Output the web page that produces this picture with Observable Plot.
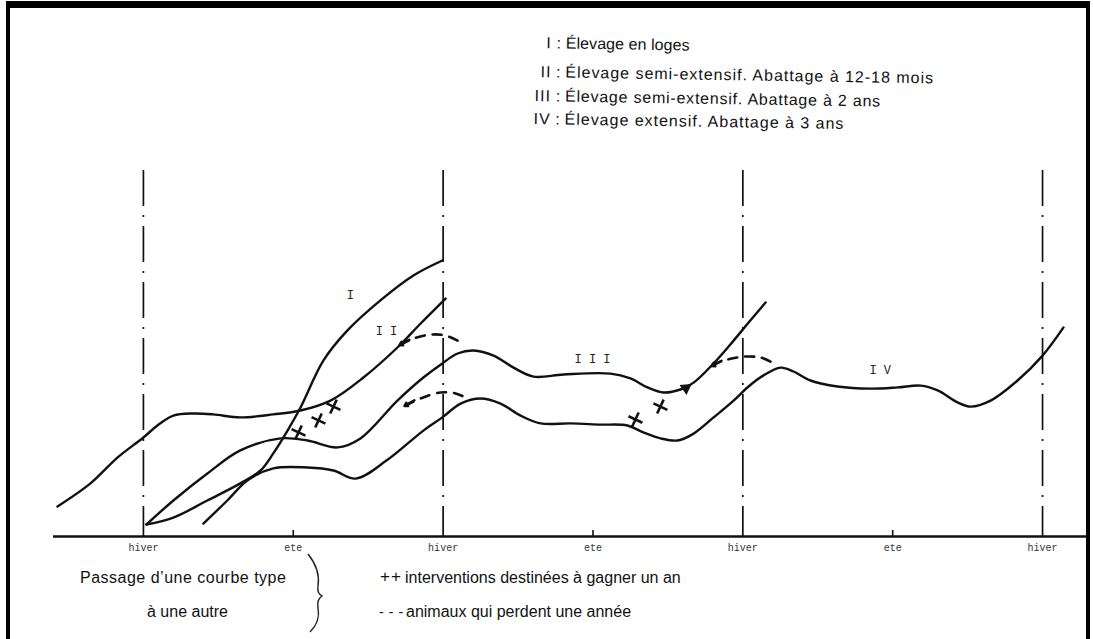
<!DOCTYPE html>
<html>
<head>
<meta charset="utf-8">
<script src="https://cdn.jsdelivr.net/npm/d3@7"></script>
<script src="https://cdn.jsdelivr.net/npm/@observablehq/plot@0.6"></script>
<style>
  body { margin: 0; background: #fff; }
  #page { position: relative; width: 1093px; height: 639px; overflow: hidden; background: #fff; font-family: "Liberation Sans", Arial, sans-serif; color: #111; }
  #frame { position: absolute; left: 6px; top: 1px; width: 1076px; height: 660px; border: 4px solid #000; border-top-width: 7px; border-bottom: none; }
  #legend { position: absolute; left: 528px; top: 34px; transform: rotate(0.9deg); transform-origin: 0 0; font-size: 16px; }
  #legend .row { position: absolute; left: 0; white-space: nowrap; height: 18px; line-height: 18px; }
  #legend .num { display: inline-block; width: 24px; text-align: right; letter-spacing: 1px; }
  #legend .sep { display: inline-block; width: 14px; text-align: center; }
  #chart { position: absolute; left: 0; top: 140px; }
  .bl { position: absolute; white-space: nowrap; font-size: 16px; line-height: 18px; }
</style>
</head>
<body>
<div id="page">
  <div id="frame"></div>
  <div id="legend"></div>
  <div id="chart"></div>
  <div class="bl" style="left:80px; top:569px; letter-spacing:0.5px;">Passage d’une courbe type</div>
  <div class="bl" style="left:147px; top:603px;">à une autre</div>
  <svg style="position:absolute; left:300px; top:550px;" width="30" height="85">
    <path d="M8,4 C16,14 20,24 18,36 C17,42 19,44 22,46 C19,48 17,52 18,58 C20,68 16,76 10,82" fill="none" stroke="#222" stroke-width="1.4"/>
  </svg>
  <div class="bl" style="left:380px; top:568px; letter-spacing:1px; font-size:17px;">++</div>
  <div class="bl" style="left:405px; top:569px;">interventions destinées à gagner un an</div>
  <div class="bl" style="left:379px; top:603px; font-size:14px; letter-spacing:0.6px;">- - -</div>
  <div class="bl" style="left:406px; top:603px;">animaux qui perdent une année</div>
</div>
<script>
// ---- Data (months from first winter, relative live weight) ----
const tickMonths = [0, 6, 12, 18, 24, 30, 36];
const tickLabels = ["hiver", "ete", "hiver", "ete", "hiver", "ete", "hiver"];
const winterMonths = [0, 12, 24, 36];
const summerMonths = [6, 18, 30];

const legendNums = ["I", "II", "III", "IV"];
const legendTexts = [
  "Élevage en loges",
  "Élevage semi-extensif. Abattage à 12-18 mois",
  "Élevage semi-extensif. Abattage à 2 ans",
  "Élevage extensif. Abattage à 3 ans"
];

// [month, weight]
const curveI = [[0.12,4],[1.2,6.3],[2.56,12],[3.88,17.7],[4.69,22],[5.2,27.7],[5.77,35.3],[6.29,43],[7.21,58.7],[8.17,68.7],[9.49,78.7],[10.81,87],[11.97,92]];
const curveII = [[-3.44,10],[-2.12,17.7],[-1.04,26.3],[0,33],[0.56,37],[1.2,40.3],[2.0,41],[2.8,40.7],[3.88,39.7],[5.2,40.7],[6.29,42],[7.49,45.3],[8.81,53],[10.17,63],[11.1,71],[12.1,79.3]];
const curveIII = [[0.12,4],[1.2,12],[2.56,21],[3.88,28.7],[5.49,32.7],[6.57,32],[7.77,29.7],[8.69,32.7],[10.17,45.3],[11.21,53],[11.97,57.7],[12.58,61],[13.22,62],[14.02,60.3],[14.82,56.3],[15.62,53.3],[16.82,54],[18.7,54.3],[19.5,52.7],[20.18,49.7],[20.83,48],[21.5,49],[22.03,51.3],[22.83,57.7],[23.63,65.3],[24.23,71.3],[24.91,78]];
const curveIV = [[2.4,4.3],[3.36,12],[4.16,18.7],[5.2,22.7],[6.57,23],[7.61,22],[8.5,19.3],[9.73,25.3],[11.21,35.3],[11.97,39.7],[12.7,44.3],[13.5,46],[14.3,44.3],[15.1,40.3],[15.9,37.7],[17.1,37.7],[18.3,37.3],[19.38,37],[20.02,34.7],[20.71,32.7],[21.39,32],[22.03,34.3],[22.83,39.7],[23.63,45.3],[24.23,50],[24.83,53.7],[25.51,56.3],[26.03,55],[26.71,52],[27.79,50],[29.11,49.3],[30.2,49.7],[31.12,50.3],[31.8,48.7],[32.6,44.7],[33.12,43.3],[33.92,45.3],[35.0,52],[36.0,60.3],[36.84,69.7]];

// animals losing a year (dashed)
const lossA = [[10.29,64],[10.81,66],[11.49,67.3],[12.09,67],[12.58,65.3]];
const lossB = [[10.49,43.7],[11.09,46],[11.89,48],[12.5,47.7],[12.9,46.3]];
const lossC = [[22.79,57],[23.11,58.3],[23.79,59.7],[24.19,60],[24.71,59.7],[25.11,58.3]];

// interventions to gain a year (crosses)
const gainMonths = [6.21, 7.01, 7.61, 19.7, 20.7];
const gainWeights = [34.7, 38.7, 43.3, 39, 43.3];

const curveNames = ["I", "I I", "I I I", "I V"];
const curveLabelMonths = [8.29, 9.73, 17.98, 29.5];
const curveLabelWeights = [80.3, 68.3, 59, 55.3];

// arrowheads: [x1, y1, x2, y2]
const arrowHeads = [[10.65,65.6,10.25,63.8],[10.85,45.4,10.45,43.5],[23.15,58.6,22.75,56.8]];
const gainArrow = [[21.72, 49.5]];

// ---- Legend (HTML) ----
const legendRight = [690, 935, 882, 846];
const legend = document.getElementById("legend");
const rowTops = [0, 29, 53, 76];
legendNums.forEach((n, i) => {
  const row = document.createElement("div");
  row.className = "row";
  row.style.top = rowTops[i] + "px";
  row.innerHTML = `<span class="num">${n}</span><span class="sep">:</span><span class="txt">${legendTexts[i]}</span>`;
  legend.appendChild(row);
  const txt = row.querySelector(".txt");
  const startX = 528 + 24 + 14;
  const natural = txt.getBoundingClientRect().width;
  const target = legendRight[i] - startX;
  const ls = (target - natural) / legendTexts[i].length;
  txt.style.letterSpacing = Math.max(-0.5, Math.min(1.5, ls)).toFixed(2) + "px";
});

// ---- Build tables ----
const series = [["I", curveI], ["II", curveII], ["III", curveIII], ["IV", curveIV]];
const lines = series.flatMap(([k, pts]) => pts.map(([x, y]) => ({k, x, y})));
const losses = [["a", lossA], ["b", lossB], ["c", lossC]].flatMap(([k, pts]) => pts.map(([x, y]) => ({k, x, y})));
const gains = gainMonths.map((x, i) => ({x, y: gainWeights[i]}));
const labels = curveNames.map((t, i) => ({t, x: curveLabelMonths[i], y: curveLabelWeights[i]}));

const chart = Plot.plot({
  width: 1093,
  height: 420,
  marginLeft: 53,
  marginRight: 6,
  marginTop: 21,
  marginBottom: 24,
  x: {domain: [-3.6, 37.8], axis: null},
  y: {domain: [0, 125], axis: null},
  style: {background: "transparent", color: "#111"},
  marks: [
    Plot.ruleX(winterMonths, {y1: 122, y2: 0, stroke: "#111", strokeWidth: 1.7, strokeDasharray: "36,9,2,9"}),
    Plot.ruleY([0], {stroke: "#111", strokeWidth: 2.6}),
    Plot.ruleX(summerMonths, {y1: 0, y2: 2, stroke: "#111", strokeWidth: 1.6}),
    Plot.axisX({ticks: tickMonths, tickFormat: (d) => tickLabels[tickMonths.indexOf(d)], tickSize: 0, tickPadding: 7, label: null, fontFamily: "Liberation Mono, monospace", fontSize: 10, letterSpacing: "1px", fill: "#333"}),
    Plot.line(lines, {x: "x", y: "y", z: "k", curve: "catmull-rom", stroke: "#111", strokeWidth: 2.4}),
    Plot.line(losses, {x: "x", y: "y", z: "k", curve: "catmull-rom", stroke: "#111", strokeWidth: 2.6, strokeDasharray: "9,8"}),
    Plot.arrow(arrowHeads, {x1: d => d[0], y1: d => d[1], x2: d => d[2], y2: d => d[3], headLength: 10, stroke: "#111", strokeWidth: 2.4}),
    Plot.dot(gainArrow, {x: d => d[0], y: d => d[1], symbol: "triangle", r: 4.5, fill: "#111", rotate: 55}),
    Plot.dot(gains, {x: "x", y: "y", symbol: "plus", r: 5, stroke: "#111", strokeWidth: 2.6, rotate: 25}),
    Plot.text(labels, {x: "x", y: "y", text: "t", fontFamily: "Liberation Mono, monospace", fontSize: 12, fill: "#222"})
  ]
});
document.getElementById("chart").appendChild(chart);
</script>
</body>
</html>
